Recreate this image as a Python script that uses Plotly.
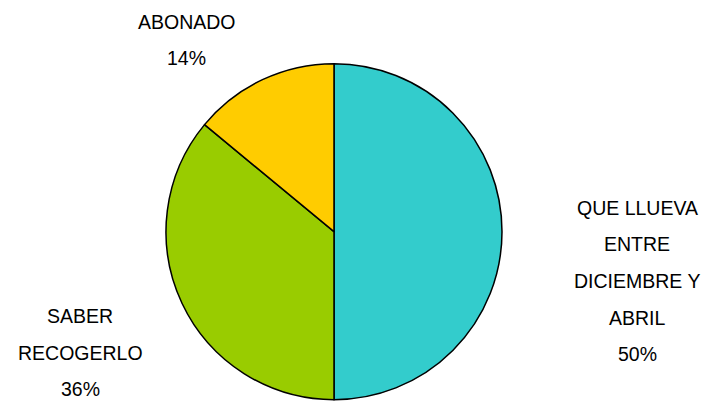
import plotly.graph_objects as go

labels = ["QUE LLUEVA ENTRE DICIEMBRE Y ABRIL", "SABER RECOGERLO", "ABONADO"]
label_lines = [["QUE LLUEVA", "ENTRE", "DICIEMBRE Y", "ABRIL"], ["SABER", "RECOGERLO"], ["ABONADO"]]
values = [50, 36, 14]
colors = ["#33CCCC", "#99CC00", "#FFCC00"]
# label anchor (screen px): center x, first line y
label_pos = [(637, 208), (80, 316), (187, 22)]
line_step = 36.5

OFF = 8  # page body margin
W, H = 712, 401
cx0, cy0, R = 334 - OFF, 231.7 - OFF, 168
fig = go.Figure(go.Pie(
    labels=labels, values=values, sort=False, direction="clockwise", rotation=0,
    marker=dict(colors=colors, line=dict(color="black", width=1.5)),
    textinfo="none", hoverinfo="label+percent",
    domain=dict(x=[(cx0 - R) / W, (cx0 + R) / W], y=[(H - cy0 - R) / H, (H - cy0 + R) / H]),
))

total = sum(values)
ann = []
font = dict(family="Liberation Sans Narrow, Arial Narrow, Liberation Sans, Arial", size=19.5, color="black")
for lines, v, (cx, y0) in zip(label_lines, values, label_pos):
    allines = lines + [f"{round(100*v/total)}%"]
    for i, t in enumerate(allines):
        y = y0 + i * line_step - OFF
        ann.append(dict(text=t, x=(cx - OFF) / W, y=1 - y / H, xref="paper", yref="paper",
                        showarrow=False, xanchor="center", yanchor="middle", font=font))

fig.update_layout(width=W, height=H, margin=dict(l=0, r=0, t=0, b=0),
                  paper_bgcolor="white", plot_bgcolor="white", showlegend=False,
                  annotations=ann)
fig.write_html("out.html")
